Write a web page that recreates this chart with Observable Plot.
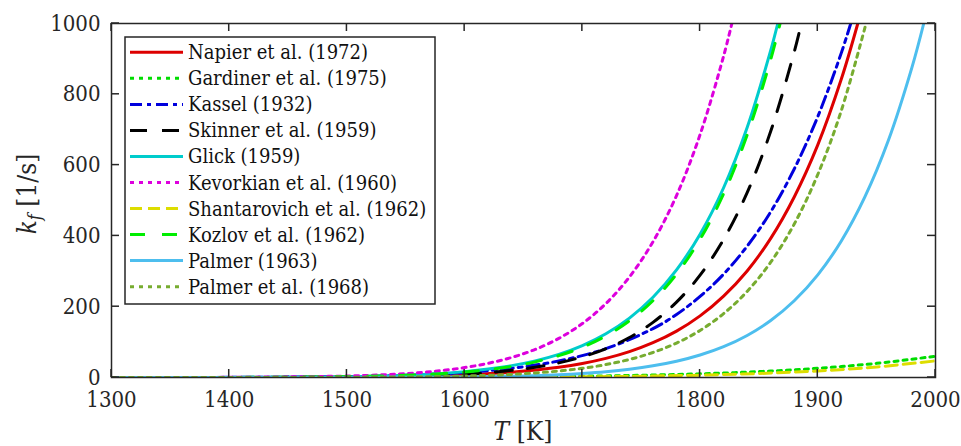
<!DOCTYPE html>
<html><head><meta charset="utf-8">
<script src="https://cdn.jsdelivr.net/npm/d3@7"></script>
<script src="https://cdn.jsdelivr.net/npm/@observablehq/plot@0.6"></script>
<style>body{margin:0;background:#fff} svg text{font-stretch:condensed}</style>
</head><body><div id="chart"></div>
<script>
const xTicks = [1300, 1400, 1500, 1600, 1700, 1800, 1900, 2000];
const yTicks = [0, 200, 400, 600, 800, 1000];

const seriesNames = ["Napier et al. (1972)", "Gardiner et al. (1975)", "Kassel (1932)", "Skinner et al. (1959)", "Glick (1959)", "Kevorkian et al. (1960)", "Shantarovich et al. (1962)", "Kozlov et al. (1962)", "Palmer (1963)", "Palmer et al. (1968)"];
const seriesColors = ["#dd0000", "#00dd00", "#0000dd", "#000000", "#00cccc", "#dd00dd", "#dddd00", "#00ee00", "#4dbeee", "#77ac30"];
const seriesDash = [null, "4,5", "12,5,4,5", "17,15", null, "4,5", "12,6", "15,17", null, "4,5"];

const napierT = [1300, 1400, 1500, 1550, 1600, 1640, 1680, 1700, 1720, 1740, 1760, 1780, 1800, 1820, 1840, 1860, 1880, 1900, 1920, 1934];
const napierK = [0.01, 0.13, 1.1, 3, 7.5, 14.9, 28.7, 39.5, 53.9, 73, 98.2, 131, 174, 230, 301, 393, 510, 657, 843, 1000];
const gardinerT = [1300, 1400, 1500, 1600, 1700, 1750, 1800, 1850, 1900, 1950, 2000];
const gardinerK = [0.01, 0.06, 0.31, 1.16, 3.7, 6.3, 10.4, 16.7, 26, 40, 60];
const kasselT = [1300, 1400, 1500, 1550, 1600, 1640, 1680, 1720, 1760, 1780, 1800, 1820, 1840, 1860, 1880, 1900, 1920, 1928];
const kasselK = [0.04, 0.4, 2.7, 6.35, 14.2, 26.2, 46.8, 81.4, 138, 178, 229, 292, 371, 468, 589, 737, 917, 1000];
const skinnerT = [1300, 1400, 1500, 1550, 1600, 1620, 1640, 1660, 1680, 1700, 1720, 1740, 1760, 1780, 1800, 1820, 1840, 1860, 1880, 1886];
const skinnerK = [0.008, 0.12, 1.25, 3.58, 9.6, 14, 20.3, 29.1, 41.3, 58.3, 81.5, 113, 155.7, 212.8, 289, 390, 522, 695.5, 920, 1000];
const glickT = [1300, 1400, 1500, 1550, 1580, 1600, 1620, 1640, 1660, 1680, 1700, 1720, 1740, 1760, 1780, 1800, 1820, 1840, 1860, 1866];
const glickK = [0.03, 0.27, 2.44, 6.57, 11.5, 16.6, 23.7, 33.5, 46.9, 65.3, 90.1, 123.4, 167.8, 226.6, 303.9, 405, 536, 706, 924, 1000];
const kevorkianT = [1300, 1400, 1500, 1520, 1540, 1560, 1580, 1600, 1620, 1640, 1660, 1680, 1700, 1720, 1740, 1760, 1780, 1800, 1820, 1827];
const kevorkianK = [0.04, 0.46, 4.13, 6.19, 9.16, 13.4, 19.5, 28.1, 40.1, 56.7, 79.4, 110.5, 152.4, 208.8, 284, 383.5, 514, 686, 908, 1000];
const shantarovichT = [1300, 1400, 1500, 1600, 1700, 1750, 1800, 1850, 1900, 1950, 2000];
const shantarovichK = [0.005, 0.03, 0.13, 0.6, 2.1, 3.8, 6.65, 11.3, 18.6, 29.9, 47];
const kozlovT = [1300, 1400, 1500, 1550, 1580, 1600, 1620, 1640, 1660, 1680, 1700, 1720, 1740, 1760, 1780, 1800, 1820, 1840, 1860, 1868];
const kozlovK = [0.02, 0.24, 2.23, 6.06, 10.7, 15.5, 22.1, 31.4, 44.2, 61.7, 85.4, 117.4, 160.2, 217.1, 292, 390.5, 519, 685, 898.5, 1000];
const palmer63T = [1300, 1400, 1500, 1600, 1650, 1680, 1700, 1720, 1740, 1760, 1780, 1800, 1820, 1840, 1860, 1880, 1900, 1920, 1940, 1960, 1980, 1990];
const palmer63K = [0.002, 0.02, 0.2, 1.71, 4.58, 8.05, 11.6, 16.5, 23.4, 32.9, 45.8, 63.4, 87.1, 118.8, 161, 216.8, 290, 385.7, 510, 670, 876, 1000];
const palmer68T = [1300, 1400, 1500, 1550, 1600, 1620, 1640, 1660, 1680, 1700, 1720, 1740, 1760, 1780, 1800, 1820, 1840, 1860, 1880, 1900, 1920, 1941];
const palmer68K = [0.004, 0.05, 0.51, 1.51, 4.13, 6.07, 8.85, 12.8, 18.3, 25.9, 36.5, 51, 70.7, 97.3, 132.9, 180.4, 243.2, 325.7, 433.5, 573.5, 754, 1000];

const seriesT = [napierT, gardinerT, kasselT, skinnerT, glickT, kevorkianT, shantarovichT, kozlovT, palmer63T, palmer68T];
const seriesK = [napierK, gardinerK, kasselK, skinnerK, glickK, kevorkianK, shantarovichK, kozlovK, palmer63K, palmer68K];

const FONT = "'DejaVu Serif', serif";
const AX = "#262626";

const lineMarks = seriesNames.map((name, i) => {
  const data = seriesT[i].map((t, j) => ({T: t, k: seriesK[i][j]}));
  return Plot.line(data, {x: "T", y: "k", stroke: seriesColors[i], strokeWidth: 3,
    strokeDasharray: seriesDash[i] || undefined, curve: "catmull-rom", clip: true});
});

const chart = Plot.plot({
  width: 961, height: 446,
  marginLeft: 111, marginRight: 26, marginTop: 23, marginBottom: 69,
  style: {fontFamily: FONT, fontSize: "22px", color: AX, background: "white"},
  x: {domain: [1300, 2000]},
  y: {domain: [0, 1000]},
  marks: [
    ...lineMarks,
    Plot.frame({stroke: AX, strokeWidth: 1.5}),
    Plot.axisX(xTicks, {tickSize: 0, tickPadding: 14, label: null, fontSize: 22, fontFamily: FONT, tickFormat: d => String(d)}),
    Plot.axisY(yTicks, {tickSize: 0, tickPadding: 11, label: null, fontSize: 22, fontFamily: FONT, tickFormat: d => String(d)})
  ]
});
document.getElementById("chart").appendChild(chart);

const sx = chart.scale("x"), sy = chart.scale("y");
const svg = d3.select(chart);
const x0 = sx.apply(1300), x1 = sx.apply(2000), y0 = sy.apply(0), y1 = sy.apply(1000);
const TL = 8;
const tg = svg.append("g").attr("stroke", AX).attr("stroke-width", 1.5);
xTicks.forEach(v => {
  const x = sx.apply(v);
  tg.append("line").attr("x1", x).attr("x2", x).attr("y1", y0).attr("y2", y0 - TL);
  tg.append("line").attr("x1", x).attr("x2", x).attr("y1", y1).attr("y2", y1 + TL);
});
yTicks.forEach(v => {
  const y = sy.apply(v);
  tg.append("line").attr("x1", x0).attr("x2", x0 + TL).attr("y1", y).attr("y2", y);
  tg.append("line").attr("x1", x1).attr("x2", x1 - TL).attr("y1", y).attr("y2", y);
});

const xl = svg.append("text").attr("x", (x0 + x1) / 2).attr("y", 440).attr("text-anchor", "middle")
  .style("font-family", FONT).attr("font-size", 26).attr("fill", AX);
xl.append("tspan").attr("font-style", "italic").text("T");
xl.append("tspan").text(" [K]");

const yl = svg.append("text").attr("transform", `translate(36,${(y0 + y1) / 2 - 6}) rotate(-90)`)
  .attr("text-anchor", "middle").style("font-family", FONT).attr("font-size", 26).attr("fill", AX);
yl.append("tspan").attr("font-style", "italic").text("k");
yl.append("tspan").attr("font-style", "italic").attr("font-size", 18).attr("dy", 5).text("f");
yl.append("tspan").attr("dy", -5).text(" [1/s]");

const lg = svg.append("g").attr("text-anchor", "start");
lg.append("rect").attr("x", 125).attr("y", 37).attr("width", 310).attr("height", 267)
  .attr("fill", "white").attr("stroke", AX).attr("stroke-width", 1.5);
seriesNames.forEach((name, i) => {
  const cy = 52.3 + i * 26.04;
  lg.append("line").attr("x1", 130).attr("x2", 183).attr("y1", cy).attr("y2", cy)
    .attr("stroke", seriesColors[i]).attr("stroke-width", 3)
    .attr("stroke-dasharray", seriesDash[i] || null);
  lg.append("text").attr("x", 188).attr("y", cy + 7).attr("text-anchor", "start").style("font-family", FONT)
    .attr("font-size", 20).attr("fill", "#111").text(name);
});
</script>
</body></html>
